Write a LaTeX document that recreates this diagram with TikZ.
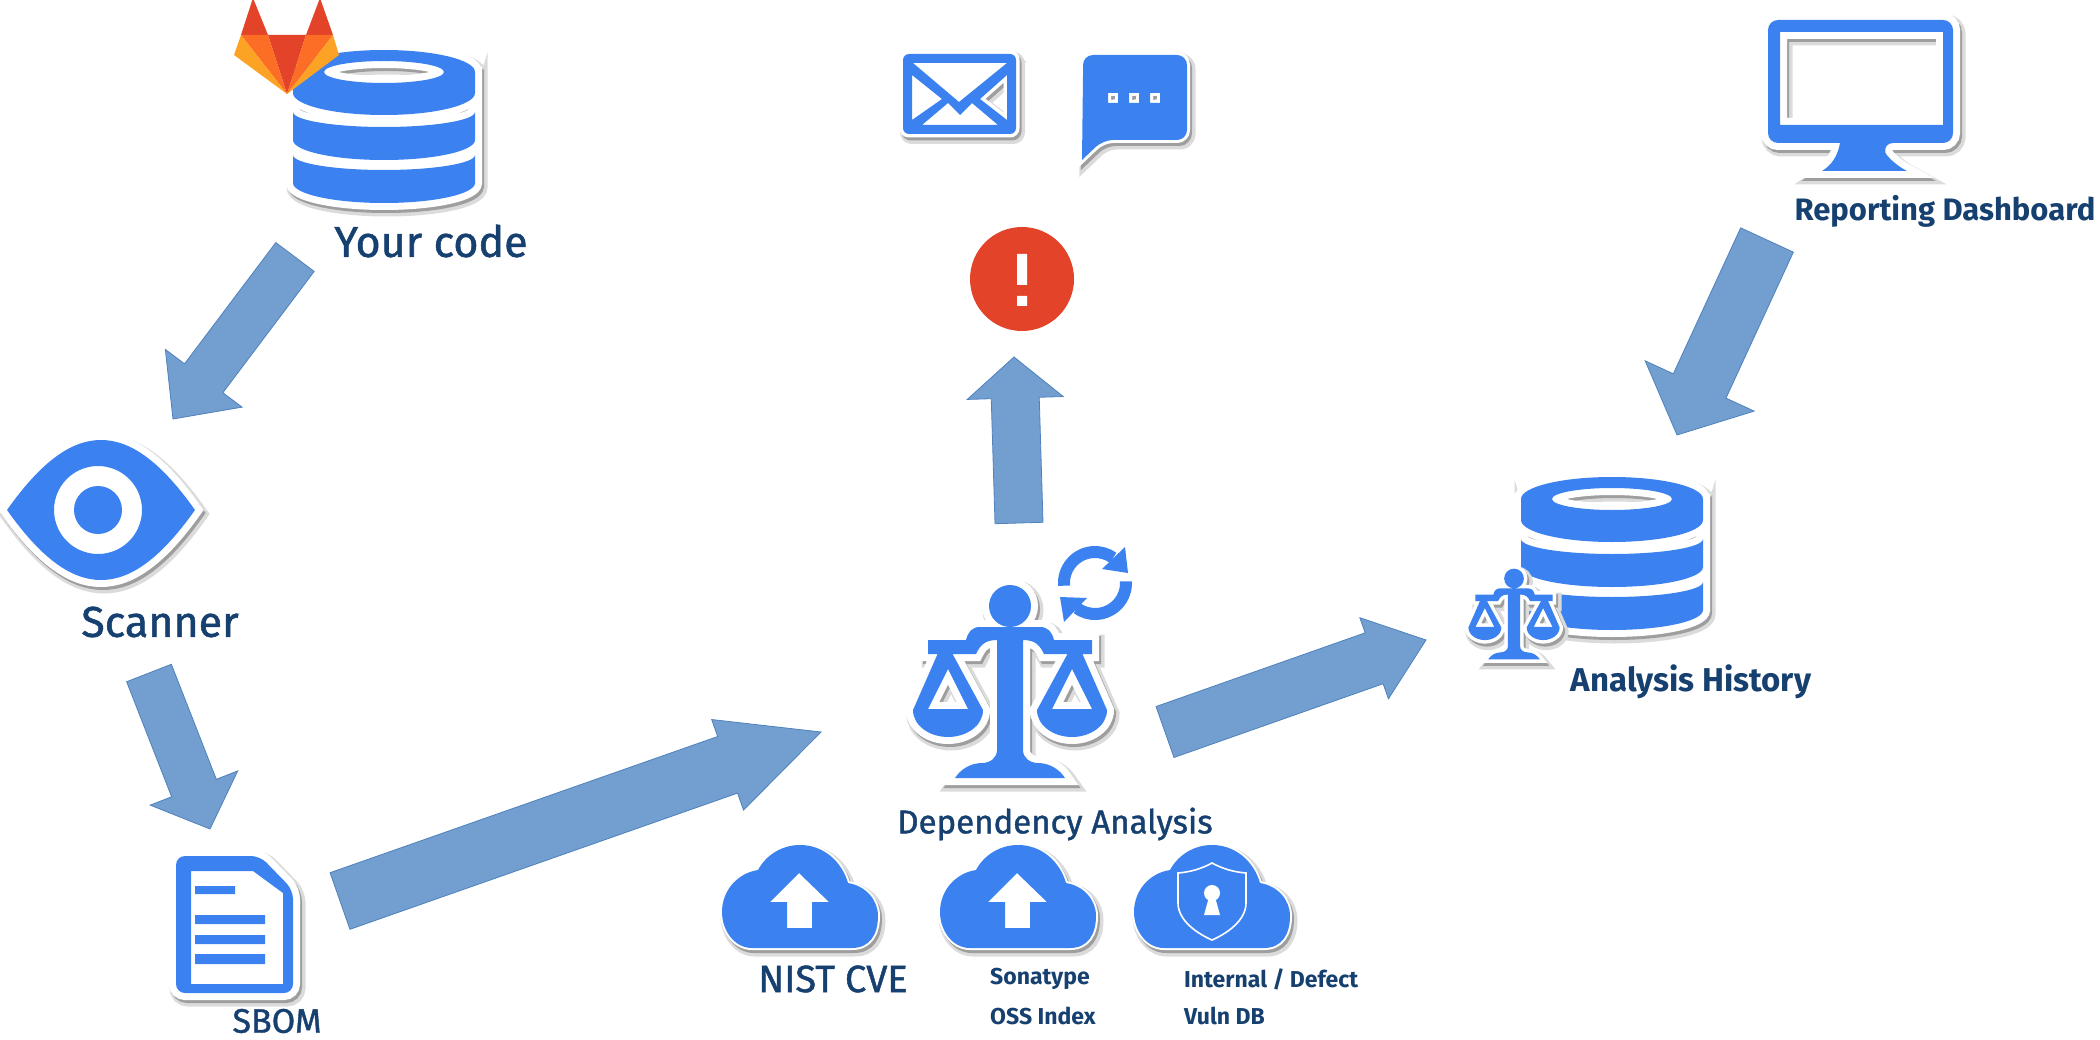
\documentclass[tikz,border=0pt]{standalone}
\usepackage{fontspec}
\setmainfont[UprightFeatures={FakeBold=1.2}]{Fira Sans}
\usetikzlibrary{calc}
\definecolor{iconBlue}{HTML}{3B82F0}
\definecolor{arrowBlue}{HTML}{729FCF}
\definecolor{arrowEdge}{HTML}{4F81BD}
\definecolor{labelNavy}{HTML}{16406F}
\definecolor{alertRed}{HTML}{E24329}
\definecolor{foxOrange}{HTML}{FC6D26}
\definecolor{foxYellow}{HTML}{FCA326}

\begin{document}
\begin{tikzpicture}
[x=1pt,y=-1pt,%
  halo/.store in=\halowidth,halo=14,%
  iconPath/.style={line join=round,fill=iconBlue,%
    preaction={draw=black!14,fill=black!14,line width=#1+5,transform canvas={xshift=3pt,yshift=-4pt}},%
    preaction={draw=black!38,fill=black!38,line width=#1,transform canvas={xshift=2pt,yshift=-3pt}},%
    preaction={draw=white,fill=white,line width=#1}},%
  flowArrow/.style={fill=arrowBlue,draw=arrowEdge,line width=0.8pt,line join=miter},%
  labelText/.style={inner sep=0pt,text=labelNavy,font=\fontsize{#1}{#1}\selectfont},%
  boldLabel/.style={inner sep=0pt,text=labelNavy,font=\fontsize{#1}{#1}\selectfont\bfseries},%
  smallLabel/.style={inner sep=0pt,anchor=west,text=labelNavy,font=\fontsize{23}{23}\selectfont\bfseries},%
  cloudBody/.style={insert path={(-48,48) .. controls (-66,48) and (-78,30) .. (-78,12)
    .. controls (-78,-10) and (-62,-27) .. (-42,-30) .. controls (-34,-45) and (-18,-55) .. (0,-55)
    .. controls (24,-55) and (42,-38) .. (48,-17) .. controls (66,-14) and (78,0) .. (78,16)
    .. controls (78,34) and (70,48) .. (52,48) -- cycle}},%
  dbIcon/.pic={
    \path[even odd rule,iconPath=\halowidth]
      (-91,30) -- (-91,58) arc[start angle=180,end angle=0,x radius=91,y radius=20]
        -- (91,30) arc[start angle=0,end angle=180,x radius=91,y radius=15] -- cycle
      (-91,-13) -- (-91,15) arc[start angle=180,end angle=0,x radius=91,y radius=20]
        -- (91,-13) arc[start angle=0,end angle=180,x radius=91,y radius=15] -- cycle
      (-91,-53) -- (-91,-32) arc[start angle=180,end angle=0,x radius=91,y radius=22]
        -- (91,-53) arc[start angle=0,end angle=-180,x radius=91,y radius=22] -- cycle
      (0,-53) ellipse[x radius=60,y radius=11];
  },%
  scaleIcon/.pic={
    \path[iconPath=\halowidth]
      (0,-84) circle[radius=21]
      (-82,-50) -- (-44,-50) .. controls (-42,-58) and (-38,-63) .. (-30,-63) -- (30,-63)
        .. controls (38,-63) and (42,-58) .. (44,-50) -- (82,-50) -- (82,-36) -- (34,-36)
        .. controls (30,-44) and (26,-50) .. (13,-50) -- (13,60)
        .. controls (13,68) and (20,73) .. (28,73) .. controls (40,73) and (50,80) .. (55,88)
        -- (-55,88) .. controls (-50,80) and (-40,73) .. (-28,73)
        .. controls (-20,73) and (-13,68) .. (-13,60) -- (-13,-50)
        .. controls (-26,-50) and (-30,-44) .. (-34,-36) -- (-82,-36) -- cycle
      (-72,-37) -- (-58,-37) -- (-27,20) .. controls (-27,36) and (-44,47) .. (-62,47)
        .. controls (-80,47) and (-97,36) .. (-97,20) -- cycle
      (-62,-21) -- (-82,19) -- (-42,19) -- cycle
      (58,-37) -- (72,-37) -- (97,20) .. controls (97,36) and (80,47) .. (62,47)
        .. controls (44,47) and (27,36) .. (27,20) -- cycle
      (62,-21) -- (42,19) -- (82,19) -- cycle;
  },%
  uploadCloud/.pic={
    \path[even odd rule,iconPath=4,cloudBody]
      (-1,-27) -- (29,2) -- (12,2) -- (12,28) -- (-13,28) -- (-13,2) -- (-30,2) -- cycle;
  }]
\useasboundingbox (0,0) rectangle (2100,1040);
%% scanned code and scanner
\pic (codeDb) at (384,125) {dbIcon};
\fill[alertRed] (241,35) -- (253,-2) -- (268,35) -- cycle (306,35) -- (320,-2) -- (333,35) -- cycle
  (268,35) -- (306,35) -- (287,94) -- cycle;
\fill[foxOrange] (241,35) -- (268,35) -- (287,94) -- cycle (333,35) -- (306,35) -- (287,94) -- cycle;
\fill[foxYellow] (241,35) -- (234,55) -- (287,94) -- cycle (333,35) -- (339,55) -- (287,94) -- cycle;
\fill[black!22] (98,510) circle[radius=40];
\path[even odd rule,iconPath=14]
  (7,510) .. controls (41,462) and (71,440) .. (101,440) .. controls (131,440) and (161,462) .. (195,510)
  .. controls (161,558) and (131,580) .. (101,580) .. controls (71,580) and (41,558) .. (7,510) -- cycle
  (98,510) circle[radius=44] (98,510) circle[radius=24];
%% bill of materials
\path[even odd rule,iconPath=14]
  [rounded corners=9] (176,856) -- (260,856) -- (293,890) -- (293,993) -- (176,993) -- cycle
  [sharp corners] (191,871) -- (253,871) -- (283,893) -- (283,984) -- (191,984) -- cycle
  (195,886) rectangle (235,894) (195,915) rectangle (265,924)
  (195,935) rectangle (265,944) (195,954) rectangle (265,964);
%% alert and its channels
\path[even odd rule,iconPath=7]
  [rounded corners=6] (903,54) -- (1016,54) -- (1016,134) -- (903,134) -- cycle
  [sharp corners] (913,63) -- (1007,63) -- (959,102) -- cycle
  (912,75) -- (942,99) -- (912,120) -- cycle (1007,75) -- (980,99) -- (1007,120) -- cycle
  (922,125) -- (948,103) -- (960,115) -- (972,103) -- (998,125) -- cycle;
\path[even odd rule,iconPath=6]
  [rounded corners=10] (1083,75) -- (1083,55) -- (1187,55) -- (1187,140) -- (1103,140)
  [sharp corners] -- (1082,160) -- cycle
  (1108,93) rectangle (1118,103) (1129,93) rectangle (1139,103) (1150,93) rectangle (1160,103);
\fill[alertRed] (1022,279) circle[radius=52];
\fill[white] (1017,254) rectangle (1027,285) (1017,296) rectangle (1027,306);
%% analysis and its data sources
\pic (analysisScale) at (1010,690) {scaleIcon};
\draw[iconBlue,line width=12pt] (1095,583) ++(175:31) arc[start angle=175,end angle=306,radius=31];
\draw[iconBlue,line width=12pt] (1095,583) ++(-3:31) arc[start angle=-3,end angle=126,radius=31];
\fill[iconBlue] (1125,547) -- (1128,573) -- (1102,569) -- cycle (1060,597) -- (1087,598) -- (1064,622) -- cycle;
\pic (nistCloud) at (800,900) {uploadCloud};
\pic (sonatypeCloud) at (1018,900) {uploadCloud};
\begin{scope}[shift={(1212,900)}]
  \path[iconPath=4,cloudBody];
  \draw[white,line width=1.6pt,fill=iconBlue]
    (0,-37) .. controls (11,-31) and (22,-28) .. (34,-27) -- (34,3) .. controls (34,20) and (16,33) .. (0,40)
    .. controls (-16,33) and (-34,20) .. (-34,3) -- (-34,-27) .. controls (-22,-28) and (-11,-31) .. (0,-37) -- cycle;
  \fill[white] (0,-7) circle[radius=8] (-3,-3) -- (3,-3) -- (8,15) -- (-8,15) -- cycle;
\end{scope}
%% history and dashboard
\pic (historyDb) at (1612,552) {dbIcon};
\pic[scale=0.47,halo=7] (historyScale) at (1514,618) {scaleIcon};
\path[even odd rule,iconPath=14]
  [rounded corners=10] (1840,143) -- (1768,143) -- (1768,20) -- (1953,20) -- (1953,143) -- (1883,143)
  [sharp corners] .. controls (1886,155) and (1895,165) .. (1907,171) -- (1822,171)
  .. controls (1832,165) and (1838,155) .. (1840,143) -- cycle
  (1780,32) rectangle (1943,125);
%% labels
\node[labelText=43] (codeLabel) at (431,241) {Your code};
\node[labelText=43] (scannerLabel) at (160,622) {Scanner};
\node[labelText=34] (sbomLabel) at (277,1021) {SBOM};
\node[labelText=33] (analysisLabel) at (1055,824) {Dependency Analysis};
\node[labelText=38] (nistLabel) at (833,979) {NIST CVE};
\node[smallLabel] (sonatypeLabel) at (990,979) {Sonatype};
\node[smallLabel] (ossLabel) at (990,1016) {OSS Index};
\node[smallLabel] (internalLabel) at (1184,979) {Internal / Defect};
\node[smallLabel] (vulnLabel) at (1184,1016) {Vuln DB};
\node[boldLabel=33] (historyLabel) at (1691,682) {Analysis History};
\node[boldLabel=31] (dashboardLabel) at (1945,211) {Reporting Dashboard};
%% arrow ends
\coordinate (codeOut) at (295,257);
\coordinate (scannerIn) at (173,419);
\coordinate (scannerOut) at (149,673);
\coordinate (sbomIn) at (210,829);
\coordinate (sbomOut) at (340,901);
\coordinate (analysisIn) at (821,732);
\coordinate (analysisUp) at (1019,523);
\coordinate (alertIn) at (1014,357);
\coordinate (analysisOut) at (1165,732);
\coordinate (historyIn) at (1426,640);
\coordinate (dashboardOut) at (1767,240);
\coordinate (historyTop) at (1677,435);
%% block arrows
\foreach \from/\to/\shaft/\wing/\headlen in {
  codeOut/scannerIn/24/48/51, scannerOut/sbomIn/24/47/44, sbomOut/analysisIn/30/48/99,
  analysisUp/alertIn/24/48/41, analysisOut/historyIn/27/43/55, dashboardOut/historyTop/29/60/54}
{
  \coordinate (headBase) at ($(\to)!\headlen pt!(\from)$);
  \draw[flowArrow] ($(\from)!\shaft pt!90:(\to)$) -- ($(headBase)!\shaft pt!90:(\to)$)
    -- ($(headBase)!\wing pt!90:(\to)$) -- (\to) -- ($(headBase)!\wing pt!-90:(\to)$)
    -- ($(headBase)!\shaft pt!-90:(\to)$) -- ($(\from)!\shaft pt!-90:(\to)$) -- cycle;
}
\end{tikzpicture}
\end{document}
